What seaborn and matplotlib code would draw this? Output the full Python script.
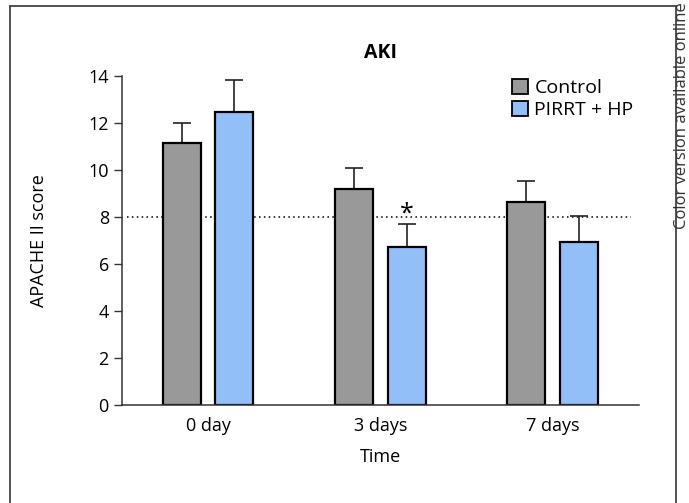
import matplotlib
matplotlib.use('Agg')
import matplotlib.pyplot as plt
from matplotlib.lines import Line2D
from matplotlib.patches import Patch
import seaborn as sns
import pandas as pd
import numpy as np

sns.set_style('white')
plt.rcParams['font.family'] = ['Open Sans', 'DejaVu Sans']
plt.rcParams['text.color'] = 'black'
plt.rcParams['axes.labelcolor'] = 'black'
plt.rcParams['xtick.color'] = 'black'
plt.rcParams['ytick.color'] = 'black'

# Values
times = ['0 day', '3 days', '7 days']
groups = ['Control', 'PIRRT + HP']
control_mean = [11.15, 9.18, 8.62]
control_err = [0.83, 0.92, 0.89]
pirrt_mean = [12.45, 6.70, 6.93]
pirrt_err = [1.37, 1.00, 1.12]
colors = ['#999999', '#93bff8']

df = pd.DataFrame({
    'Time': times * 2,
    'Group': [groups[0]] * 3 + [groups[1]] * 3,
    'score': control_mean + pirrt_mean,
})
errs = {groups[0]: control_err, groups[1]: pirrt_err}

fig = plt.figure(figsize=(6.89, 5.03), dpi=100)
ax = fig.add_axes([0.177, 0.195, 0.750, 0.654])

# reference line at 8 behind the bars
ax.axhline(8, xmin=0.01, xmax=0.985, color='black', ls=(0, (1, 2.2)), lw=1.1, zorder=0)

sns.barplot(data=df, x='Time', y='score', hue='Group', order=times, hue_order=groups,
            palette=colors, saturation=1, width=0.61, gap=0.28, errorbar=None,
            edgecolor='black', linewidth=1.6, legend=False, ax=ax, zorder=2)

# one-sided error bars on the bar centres
for cont, g in zip(ax.containers, groups):
    xs = [p.get_x() + p.get_width() / 2 for p in cont]
    ys = [p.get_height() for p in cont]
    e = errs[g]
    ax.errorbar(xs, ys, yerr=[np.zeros(len(e)), e], fmt='none', ecolor='#222222',
                elinewidth=1.2, capsize=6.5, capthick=1.2, zorder=1)

# significance marker
blue3 = ax.containers[1][1]
ax.text(blue3.get_x() + blue3.get_width() / 2, 8.1, '*', ha='center', va='center',
        fontsize=18, zorder=3)

ax.set_ylim(0, 14)
ax.set_xlim(-0.5, 2.5)
ax.set_yticks(range(0, 15, 2))
ax.set_xticks([-0.5, 0.5, 1.5, 2.5], minor=True)
ax.tick_params(axis='x', which='major', length=0, labelsize=13, pad=9)
ax.tick_params(axis='x', which='minor', length=8, width=1, color='#333333', direction='out')
ax.tick_params(axis='y', length=6, width=1, color='#333333', direction='out', labelsize=13, left=True)
for s in ['top', 'right']:
    ax.spines[s].set_visible(False)
for s in ['left', 'bottom']:
    ax.spines[s].set_color('#333333')
    ax.spines[s].set_linewidth(1.1)

ax.set_xlabel('Time', fontsize=13, labelpad=9)
ax.set_ylabel('APACHE II score', fontsize=13, labelpad=29)
ax.set_title('AKI', fontsize=14, fontweight='bold', pad=13)

handles = [Patch(facecolor=c, edgecolor='black', linewidth=1.3) for c in colors]
ax.legend(handles, groups, loc='upper left', bbox_to_anchor=(0.74, 1.015), frameon=False,
          fontsize=14, handlelength=0.8, handleheight=0.8, handletextpad=0.35,
          labelspacing=0.2, borderaxespad=0)

# outer panel frame (open at the bottom)
fx0, fx1, fy1 = 10 / 689, 676 / 689, 1 - 6 / 503
frame_kw = dict(color='#444444', lw=1.3, transform=fig.transFigure)
fig.add_artist(Line2D([fx0, fx0], [0, fy1], **frame_kw))
fig.add_artist(Line2D([fx0, fx1], [fy1, fy1], **frame_kw))
fig.add_artist(Line2D([fx1, fx1], [0, fy1], **frame_kw))

fig.text(682 / 689, 0.996, 'Color version available online', rotation=90,
         ha='center', va='top', fontsize=12, color='#333333')

fig.savefig('out.png', dpi=100)
